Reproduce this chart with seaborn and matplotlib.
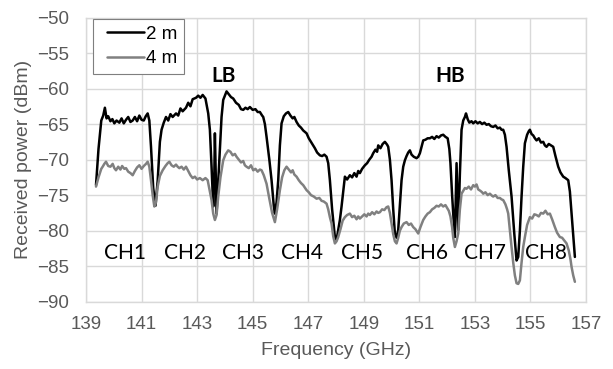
import numpy as np
import pandas as pd
import matplotlib
matplotlib.use("Agg")
import matplotlib.pyplot as plt
from matplotlib.lines import Line2D
from matplotlib.legend_handler import HandlerLine2D
import seaborn as sns

# ---- data ----
f_2m = [139.36,139.45,139.55,139.62,139.68,139.74,139.80,139.88,139.95,140.02,140.10,140.20,140.28,140.36,140.44,140.52,140.60,140.68,140.76,140.84,140.92,141.00,141.08,141.15,141.22,141.28,141.34,141.42,141.50,141.58,141.66,141.72,141.80,141.88,141.96,142.04,142.12,142.24,142.32,142.40,142.48,142.60,142.68,142.76,142.84,142.96,143.04,143.12,143.20,143.30,143.40,143.46,143.52,143.58,143.62,143.64,143.67,143.70,143.76,143.82,143.88,143.94,144.00,144.06,144.14,144.22,144.30,144.40,144.50,144.58,144.66,144.74,144.82,144.90,145.00,145.10,145.18,145.26,145.34,145.38,145.44,145.50,145.60,145.68,145.76,145.80,145.86,145.92,145.98,146.04,146.12,146.20,146.28,146.36,146.44,146.50,146.58,146.66,146.74,146.82,146.94,147.02,147.10,147.18,147.24,147.32,147.42,147.50,147.58,147.66,147.72,147.78,147.86,147.96,148.02,148.08,148.14,148.20,148.26,148.32,148.40,148.50,148.58,148.66,148.74,148.80,148.86,148.94,149.04,149.12,149.20,149.28,149.34,149.42,149.48,149.52,149.60,149.68,149.76,149.84,149.88,149.94,150.00,150.06,150.12,150.18,150.24,150.30,150.36,150.42,150.48,150.54,150.60,150.66,150.72,150.80,150.90,150.96,151.02,151.08,151.14,151.22,151.30,151.38,151.46,151.54,151.62,151.70,151.78,151.86,151.94,152.02,152.08,152.12,152.18,152.22,152.28,152.31,152.34,152.37,152.40,152.46,152.52,152.58,152.64,152.68,152.74,152.80,152.88,152.94,153.02,153.10,153.18,153.26,153.34,153.42,153.50,153.58,153.66,153.74,153.82,153.90,153.96,154.02,154.08,154.14,154.22,154.32,154.42,154.50,154.56,154.62,154.68,154.74,154.80,154.88,154.94,154.98,155.04,155.10,155.16,155.22,155.30,155.38,155.46,155.52,155.58,155.66,155.74,155.82,155.90,156.00,156.08,156.18,156.26,156.36,156.42,156.48,156.54,156.60]
p_2m = [-73.6,-68.5,-64.5,-63.8,-62.7,-64.2,-63.9,-64.6,-64.3,-64.9,-64.5,-64.8,-64.2,-64.9,-64.4,-64.0,-64.7,-64.5,-64.0,-64.6,-63.8,-64.4,-64.5,-63.9,-63.5,-64.5,-68.2,-74.0,-76.5,-73.0,-67.5,-65.8,-64.8,-64.0,-64.5,-63.6,-64.0,-63.5,-63.8,-62.8,-63.2,-62.7,-62.0,-62.5,-61.5,-61.3,-61.0,-61.3,-60.9,-61.4,-63.5,-65.8,-71.0,-76.6,-72.0,-66.3,-72.0,-77.6,-73.0,-68.2,-64.0,-61.6,-61.0,-60.4,-60.8,-61.2,-61.4,-62.0,-62.3,-62.9,-63.0,-62.7,-62.9,-62.6,-63.0,-62.9,-63.3,-63.3,-63.8,-64.0,-65.0,-66.8,-70.0,-72.9,-76.5,-77.6,-76.0,-72.9,-68.0,-64.9,-63.9,-63.5,-63.3,-63.8,-64.2,-64.0,-64.7,-65.2,-65.5,-65.9,-66.3,-67.0,-67.5,-68.0,-68.4,-69.0,-69.4,-69.5,-69.3,-69.6,-70.5,-72.9,-77.0,-80.9,-81.3,-79.9,-78.5,-76.6,-74.5,-72.4,-72.8,-72.2,-72.5,-71.9,-72.4,-71.6,-71.9,-71.3,-70.8,-70.5,-70.0,-69.6,-69.1,-68.6,-68.9,-68.0,-68.4,-67.8,-67.5,-67.9,-68.2,-70.0,-72.9,-77.0,-80.4,-81.0,-79.9,-76.5,-72.9,-71.0,-70.1,-69.5,-69.0,-68.7,-69.3,-69.6,-69.8,-69.6,-69.1,-68.2,-67.3,-67.2,-67.0,-67.0,-66.8,-67.1,-66.7,-66.9,-66.6,-66.5,-66.8,-67.0,-68.5,-70.5,-75.0,-77.6,-80.9,-76.0,-70.5,-75.0,-79.9,-72.0,-65.8,-64.5,-64.0,-63.5,-64.3,-64.8,-64.6,-64.9,-64.6,-64.9,-64.7,-65.0,-64.8,-65.1,-65.0,-65.3,-65.4,-65.2,-65.6,-65.5,-65.8,-65.8,-66.5,-68.2,-71.5,-75.2,-80.5,-84.2,-83.7,-80.0,-75.2,-71.0,-67.7,-66.5,-66.0,-65.8,-66.4,-66.6,-67.0,-67.3,-67.0,-67.6,-67.5,-68.0,-68.2,-67.8,-68.0,-68.2,-69.5,-71.0,-71.8,-72.4,-72.6,-72.9,-74.5,-77.6,-80.5,-83.7]

f_4m = [139.36,139.45,139.55,139.60,139.66,139.72,139.80,139.88,139.96,140.02,140.08,140.16,140.24,140.30,140.38,140.44,140.52,140.60,140.68,140.76,140.84,140.92,141.00,141.08,141.16,141.22,141.28,141.34,141.40,141.46,141.52,141.58,141.66,141.76,141.86,141.94,142.00,142.08,142.16,142.24,142.30,142.36,142.44,142.52,142.60,142.68,142.76,142.84,142.92,143.00,143.10,143.20,143.30,143.38,143.46,143.52,143.58,143.64,143.70,143.76,143.84,143.94,144.02,144.12,144.20,144.28,144.36,144.42,144.50,144.58,144.66,144.72,144.78,144.86,144.94,145.02,145.10,145.18,145.26,145.32,145.40,145.50,145.60,145.70,145.80,145.88,145.98,146.06,146.14,146.22,146.30,146.38,146.44,146.50,146.58,146.66,146.74,146.82,146.94,147.02,147.10,147.20,147.30,147.40,147.48,147.56,147.66,147.72,147.78,147.84,147.90,147.96,148.02,148.08,148.16,148.24,148.32,148.40,148.50,148.58,148.66,148.74,148.80,148.86,148.94,149.02,149.10,149.16,149.22,149.30,149.38,149.46,149.52,149.58,149.66,149.74,149.82,149.88,149.94,150.00,150.06,150.12,150.18,150.24,150.30,150.36,150.44,150.54,150.62,150.70,150.78,150.86,150.96,151.04,151.14,151.22,151.30,151.38,151.46,151.54,151.62,151.70,151.78,151.86,151.94,152.00,152.06,152.12,152.18,152.22,152.28,152.34,152.40,152.46,152.52,152.58,152.64,152.70,152.78,152.86,152.94,153.00,153.06,153.12,153.20,153.26,153.30,153.38,153.46,153.54,153.62,153.66,153.74,153.82,153.90,153.96,154.02,154.10,154.16,154.20,154.26,154.32,154.38,154.44,154.50,154.56,154.62,154.68,154.74,154.80,154.88,154.98,155.06,155.14,155.22,155.30,155.38,155.46,155.54,155.62,155.70,155.78,155.88,155.96,156.06,156.14,156.22,156.30,156.38,156.44,156.48,156.54,156.60]
p_4m = [-73.8,-72.5,-71.3,-71.0,-70.6,-70.3,-70.9,-71.0,-70.6,-71.2,-71.5,-71.0,-71.4,-70.9,-71.3,-71.2,-71.7,-71.9,-72.2,-71.6,-71.1,-70.8,-71.3,-70.9,-70.6,-70.3,-71.0,-72.9,-75.0,-76.6,-76.0,-73.8,-72.3,-71.5,-70.9,-70.5,-70.3,-70.8,-71.0,-70.7,-71.0,-71.2,-71.0,-71.4,-71.0,-71.6,-72.2,-72.6,-72.4,-72.8,-72.6,-72.9,-72.6,-72.9,-74.5,-75.7,-77.6,-78.5,-77.8,-75.2,-72.5,-70.1,-69.3,-68.7,-68.9,-69.4,-69.2,-69.6,-70.0,-70.4,-70.2,-70.8,-71.0,-71.2,-70.8,-71.5,-71.3,-71.7,-71.4,-71.5,-72.2,-73.4,-75.5,-77.5,-78.8,-77.0,-74.3,-72.5,-71.5,-71.0,-71.4,-71.8,-71.5,-72.1,-72.4,-72.9,-73.3,-73.6,-74.3,-74.6,-75.0,-75.2,-75.5,-75.4,-75.8,-75.9,-76.2,-77.0,-78.1,-79.0,-80.8,-81.8,-81.5,-80.9,-79.8,-78.6,-78.1,-77.8,-77.6,-78.1,-77.9,-78.4,-78.0,-78.3,-78.0,-77.7,-78.0,-77.6,-77.8,-77.4,-77.7,-77.3,-77.5,-77.4,-77.0,-77.1,-76.7,-76.6,-77.5,-79.0,-80.5,-81.5,-81.8,-81.0,-80.0,-79.5,-79.0,-78.8,-79.2,-79.0,-79.5,-79.8,-80.4,-79.5,-78.5,-78.0,-77.6,-77.4,-77.0,-76.8,-76.5,-76.6,-76.3,-76.6,-76.4,-76.8,-77.2,-78.0,-79.5,-81.0,-82.3,-81.5,-80.4,-77.0,-74.8,-74.4,-74.0,-74.1,-73.8,-74.2,-73.6,-73.8,-73.5,-74.2,-74.4,-74.6,-74.8,-74.6,-75.0,-74.8,-75.1,-75.2,-75.0,-75.4,-75.4,-75.6,-75.7,-76.3,-77.0,-77.6,-80.0,-82.3,-84.5,-86.3,-87.4,-87.5,-87.0,-84.5,-82.3,-80.9,-79.2,-78.1,-78.3,-77.7,-77.8,-78.0,-77.5,-77.6,-77.2,-77.7,-77.6,-78.4,-79.5,-80.3,-80.9,-81.0,-81.4,-81.8,-82.8,-84.0,-85.1,-86.3,-87.2]

series_names = ["2 m", "4 m"]
ch_labels = ["CH1", "CH2", "CH3", "CH4", "CH5", "CH6", "CH7", "CH8"]
ch_x = [140.42, 142.58, 144.66, 146.78, 148.94, 151.26, 153.36, 155.55]
ch_y = -83.2
band_labels = ["LB", "HB"]
band_x = [143.94, 152.12]
band_y = -58.2
x_ticks = list(range(139, 158, 2))
y_ticks = list(range(-90, -49, 5))

df = pd.concat([
    pd.DataFrame({"Frequency": f_2m, "Power": p_2m, "Distance": series_names[0]}),
    pd.DataFrame({"Frequency": f_4m, "Power": p_4m, "Distance": series_names[1]}),
], ignore_index=True)

sns.set_style("whitegrid", {"grid.color": "#d9d9d9", "axes.edgecolor": "#d9d9d9"})
plt.rcParams["font.family"] = ["Liberation Sans", "DejaVu Sans"]

fig = plt.figure(figsize=(6.13, 3.69), dpi=100)
ax = fig.add_axes([86/613, 1-301.7/369, 500/613, 284.2/369])

sns.lineplot(data=df, x="Frequency", y="Power", hue="Distance",
             palette={"2 m": "black", "4 m": "#808080"},
             linewidth=1.8, sort=False, estimator=None, ax=ax)

ax.set_xlim(139, 157)
ax.set_ylim(-90, -50)
ax.set_xticks(x_ticks)
ax.set_yticks(y_ticks)
ax.grid(True, color="#d9d9d9", linewidth=1.0)
for s in ax.spines.values():
    s.set_color("#d9d9d9")
    s.set_linewidth(1.0)
ax.tick_params(axis="both", length=0, labelsize=13.5, colors="#595959")
ax.tick_params(axis="y", pad=12)
ax.tick_params(axis="x", pad=10)
ax.set_xlabel("Frequency (GHz)", fontsize=14, color="#595959", labelpad=7)
ax.set_ylabel("Received power (dBm)", fontsize=14, color="#595959", labelpad=4)

for lab, x in zip(ch_labels, ch_x):
    ax.text(x, ch_y, lab, ha="center", va="center", fontsize=15,
            family=["Lato", "DejaVu Sans"], color="black")
for lab, x in zip(band_labels, band_x):
    ax.text(x, band_y, lab, ha="center", va="center", fontsize=15,
            fontweight="bold", family=["Lato", "DejaVu Sans"], color="black")

fs = 13.5
handles, labels = ax.get_legend_handles_labels()
leg = ax.legend(handles, labels, loc="upper left",
                bbox_to_anchor=(6.5/500, 1-1.5/284.2), borderaxespad=0,
                fontsize=fs, frameon=True, fancybox=False, framealpha=1,
                edgecolor="#7f7f7f", handlelength=2.8, handletextpad=-0.3,
                borderpad=0.35, labelspacing=0.4, title=None,
                handler_map={Line2D: HandlerLine2D(numpoints=2, marker_pad=0.42)})
leg.get_frame().set_linewidth(0.8)
for t in leg.get_texts():
    t.set_color("black")

fig.savefig("out.png", dpi=100)
